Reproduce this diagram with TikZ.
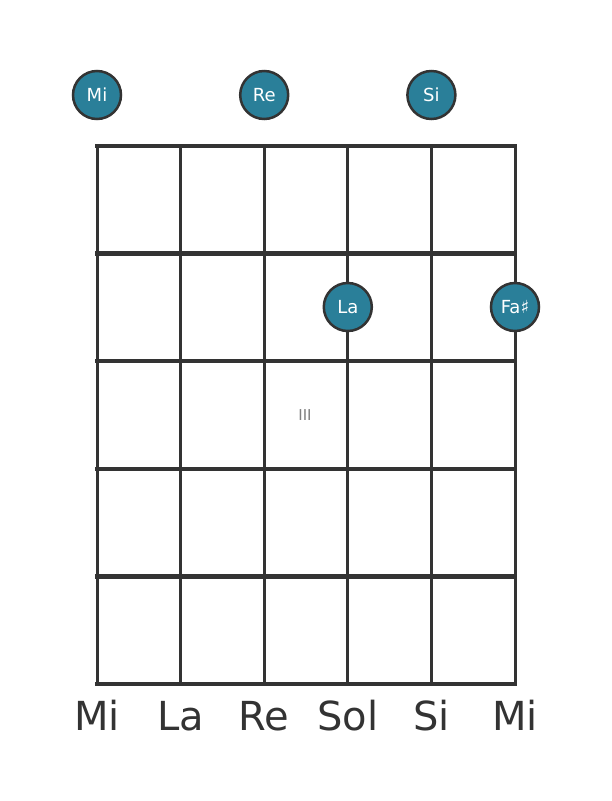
\documentclass[tikz,border=0pt]{standalone}
\usepackage{fontspec}
\setmainfont{DejaVu Sans}
\usetikzlibrary{positioning}
\definecolor{noteteal}{HTML}{2A7F99}
\definecolor{inkgray}{HTML}{333333}

\begin{document}
\begin{tikzpicture}[x=1pt, y=-1pt,
  fret/.style={line width=4.5pt, color=inkgray},
  string/.style={line width=3pt, color=inkgray},
  note/.style={circle, draw=inkgray, fill=noteteal, line width=2.5pt, minimum size=48pt, inner sep=0pt, text=white, font=\fontsize{18}{18}\selectfont},
  tuning/.style={anchor=base, text=inkgray, font=\fontsize{40}{40}\selectfont}]

\useasboundingbox (0,0) rectangle (611,801);

\draw [string] (97,146) -- (97,684);
\draw [string] (180.6,146) -- (180.6,684);
\draw [string] (264.2,146) -- (264.2,684);
\draw [string] (347.8,146) -- (347.8,684);
\draw [string] (431.4,146) -- (431.4,684);
\draw [string] (515,146) -- (515,684);

\draw [fret] (95,146) -- (517,146);
\draw [fret] (95,253.6) -- (517,253.6);
\draw [fret] (95,361.2) -- (517,361.2);
\draw [fret] (95,468.8) -- (517,468.8);
\draw [fret] (95,576.4) -- (517,576.4);
\draw [fret] (95,684) -- (517,684);

\node [text=gray, font=\fontsize{15}{15}\selectfont] (POS) at (305,415) {III};

\node [note] (OPENMI) at (97,95) {Mi};
\node [note] (OPENRE) at (264.2,95) {Re};
\node [note] (OPENSI) at (431.4,95) {Si};
\node [note] (LA) at (347.8,307) {La};
\node [note] (FAS) at (515,307) {Fa♯};

\node [tuning] (S6) at (97,730) {Mi};
\node [tuning] (S5) at (180.6,730) {La};
\node [tuning] (S4) at (264.2,730) {Re};
\node [tuning] (S3) at (347.8,730) {Sol};
\node [tuning] (S2) at (431.4,730) {Si};
\node [tuning] (S1) at (515,730) {Mi};
\end{tikzpicture}
\end{document}
